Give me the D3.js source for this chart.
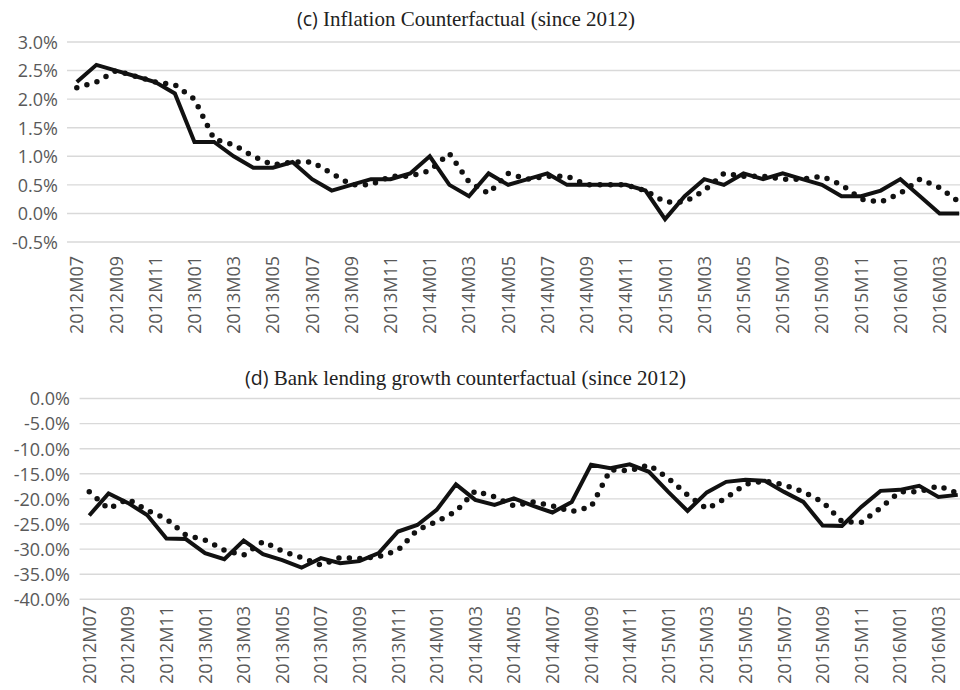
<!DOCTYPE html>
<html>
<head>
<meta charset="utf-8">
<script src="https://cdn.jsdelivr.net/npm/d3@7"></script>
<style>
  html, body { margin: 0; padding: 0; background: #fff; }
  svg { display: block; }
</style>
</head>
<body>
<svg id="chart" width="960" height="690"></svg>
<script>
// Monthly categories, 2012M07 .. 2016M04
const months = [
  "2012M07","2012M08","2012M09","2012M10","2012M11","2012M12",
  "2013M01","2013M02","2013M03","2013M04","2013M05","2013M06",
  "2013M07","2013M08","2013M09","2013M10","2013M11","2013M12",
  "2014M01","2014M02","2014M03","2014M04","2014M05","2014M06",
  "2014M07","2014M08","2014M09","2014M10","2014M11","2014M12",
  "2015M01","2015M02","2015M03","2015M04","2015M05","2015M06",
  "2015M07","2015M08","2015M09","2015M10","2015M11","2015M12",
  "2016M01","2016M02","2016M03","2016M04"
];

// (c) inflation, % — actual (solid) and counterfactual (dotted)
const inflationActual = [
  2.3, 2.6, 2.5, 2.4, 2.3, 2.1,
  1.25, 1.25, 1.0, 0.8, 0.8, 0.9,
  0.6, 0.4, 0.5, 0.6, 0.6, 0.7,
  1.0, 0.5, 0.3, 0.7, 0.5, 0.6,
  0.7, 0.5, 0.5, 0.5, 0.5, 0.4,
  -0.1, 0.3, 0.6, 0.5, 0.7, 0.6,
  0.7, 0.6, 0.5, 0.3, 0.3, 0.4,
  0.6, 0.3, 0.0, 0.0
];
const inflationCounterfactual = [
  2.2, 2.3, 2.5, 2.4, 2.3, 2.25,
  2.0, 1.3, 1.2, 1.0, 0.85, 0.9,
  0.9, 0.7, 0.5, 0.5, 0.65, 0.65,
  0.75, 1.05, 0.55, 0.35, 0.7, 0.6,
  0.65, 0.65, 0.5, 0.5, 0.5, 0.4,
  0.2, 0.2, 0.4, 0.7, 0.65, 0.65,
  0.6, 0.6, 0.65, 0.5, 0.25, 0.2,
  0.35, 0.6, 0.45, 0.2
];

// (d) bank lending growth, % — actual (solid) and counterfactual (dotted)
const lendingActual = [
  -23.3, -18.9, -20.8, -23.2, -27.9, -28.0,
  -30.8, -32.0, -28.3, -31.0, -32.2, -33.7,
  -31.8, -32.8, -32.4, -30.8, -26.5, -25.2,
  -22.2, -17.1, -20.2, -21.2, -19.9, -21.4,
  -22.7, -20.6, -13.2, -13.9, -13.1, -14.6,
  -18.6, -22.4, -18.7, -16.6, -16.2, -16.4,
  -18.6, -20.6, -25.3, -25.4, -21.6, -18.4,
  -18.2, -17.4, -19.6, -19.2
];
const lendingCounterfactual = [
  -18.6, -22.0, -20.0, -22.3, -24.0, -27.2,
  -28.2, -30.2, -31.2, -28.5, -30.4, -31.7,
  -33.2, -31.7, -31.9, -31.5, -30.2, -26.2,
  -24.5, -22.5, -18.4, -19.6, -21.4, -20.6,
  -21.4, -22.5, -21.6, -14.2, -14.4, -13.2,
  -15.9, -19.2, -22.0, -19.8, -17.1, -16.4,
  -17.2, -18.6, -20.6, -24.5, -24.7, -21.8,
  -18.6, -18.6, -17.4, -18.9
];

// Axis tick values
const inflationTicks = [3.0, 2.5, 2.0, 1.5, 1.0, 0.5, 0.0, -0.5];
const lendingTicks = [0, -5, -10, -15, -20, -25, -30, -35, -40];

const svg = d3.select("#chart");
// plain hyphen-minus for negative labels
const fmt = d3.formatLocale({ decimal: ".", thousands: ",", grouping: [3], currency: ["", ""], minus: "-" }).format(".1f");
const labelFont = "'Open Sans', 'Noto Sans', sans-serif";
const serifFont = "'Liberation Serif', 'DejaVu Serif', serif";

function drawPanel(cfg) {
  const g = svg.append("g");

  const x = d3.scaleBand().domain(months).range([cfg.left, cfg.right]).padding(0);
  const y = d3.scaleLinear().domain(cfg.domain).range([cfg.bottom, cfg.top]);
  const cx = d => x(d) + x.bandwidth() / 2;

  // title: sans panel letter followed by serif text
  const title = g.append("text")
    .attr("x", cfg.titleX)
    .attr("y", cfg.titleY)
    .attr("text-anchor", "start")
    .attr("fill", "#222")
    .style("font-size", "21px");
  title.append("tspan").style("font-family", labelFont).style("font-size", "19.5px").text(cfg.letter);
  title.append("tspan").style("font-family", serifFont).text(" " + cfg.title);

  // horizontal gridlines
  g.append("g")
    .selectAll("line")
    .data(cfg.ticks)
    .join("line")
    .attr("x1", cfg.left)
    .attr("x2", cfg.right)
    .attr("y1", d => y(d))
    .attr("y2", d => y(d))
    .attr("stroke", "#d9d9d9")
    .attr("stroke-width", 1.4);

  // y-axis labels
  const yAxis = d3.axisLeft(y).tickValues(cfg.ticks).tickSize(0).tickPadding(0)
    .tickFormat(d => fmt(d) + "%");
  const ya = g.append("g")
    .attr("transform", `translate(${cfg.yLabelX},0)`)
    .call(yAxis);
  ya.select(".domain").remove();
  ya.selectAll("text")
    .attr("fill", "#595959")
    .attr("dy", "0.35em")
    .style("font-family", labelFont)
    .style("font-size", "18px");

  // x-axis labels, every second month, rotated
  const xAxis = d3.axisBottom(x)
    .tickValues(months.filter((m, i) => i % 2 === 0))
    .tickSize(0).tickPadding(0);
  const xa = g.append("g")
    .attr("transform", `translate(0,${cfg.xLabelY})`)
    .call(xAxis);
  xa.select(".domain").remove();
  xa.selectAll("text")
    .attr("fill", "#595959")
    .attr("transform", "rotate(-90)")
    .attr("text-anchor", "end")
    .attr("x", 0)
    .attr("y", 0)
    .attr("dy", "0.36em")
    .style("font-family", labelFont)
    .style("font-size", "18px");

  const line = d3.line()
    .x((d, i) => cx(months[i]))
    .y(d => y(d));

  // counterfactual (round dots)
  g.append("path")
    .datum(cfg.dotted)
    .attr("d", line)
    .attr("fill", "none")
    .attr("stroke", "#111")
    .attr("stroke-width", 5.5)
    .attr("stroke-linecap", "round")
    .attr("stroke-linejoin", "round")
    .attr("stroke-dasharray", "0 10.5");

  // actual (solid)
  g.append("path")
    .datum(cfg.solid)
    .attr("d", line)
    .attr("fill", "none")
    .attr("stroke", "#111")
    .attr("stroke-width", 4)
    .attr("stroke-linejoin", "miter");
}

drawPanel({
  letter: "(c)",
  title: "Inflation Counterfactual (since 2012)",
  titleX: 297, titleY: 26,
  left: 67, right: 969,
  top: 42, bottom: 242,
  domain: [-0.5, 3.0],
  ticks: inflationTicks,
  yLabelX: 58,
  xLabelY: 256,
  solid: inflationActual,
  dotted: inflationCounterfactual
});

drawPanel({
  letter: "(d)",
  title: "Bank lending growth counterfactual (since 2012)",
  titleX: 245, titleY: 385,
  left: 79.6, right: 967.4,
  top: 398.5, bottom: 599.3,
  domain: [-40, 0],
  ticks: lendingTicks,
  yLabelX: 70,
  xLabelY: 606,
  solid: lendingActual,
  dotted: lendingCounterfactual
});
</script>
</body>
</html>
